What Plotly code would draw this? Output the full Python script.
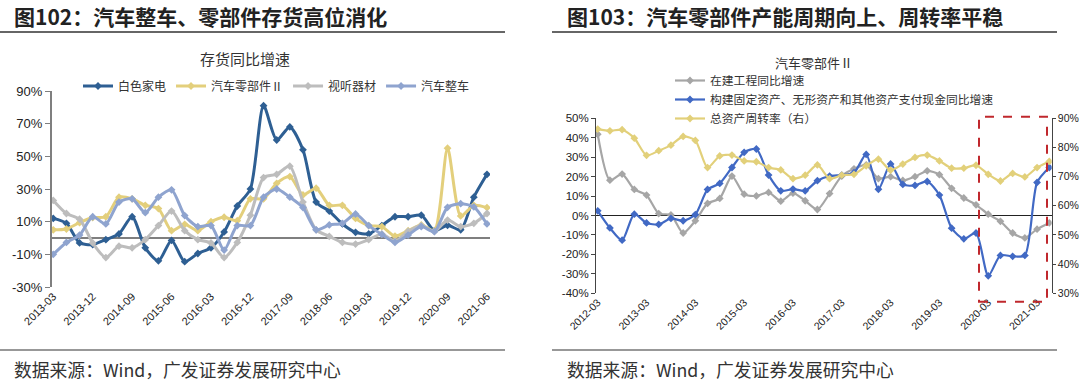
import plotly.graph_objects as go

# ---------------- Left chart data (存货同比增速) ----------------
quarters_left = [f"{y}-{m:02d}" for y in range(2013, 2022) for m in (3, 6, 9, 12)][:34]
baise_jiadian = [12, 9, -3, -4, -1, 2.5, 13, -6, -14, -1.5,
                 -14.5, -9.5, -6, 3.7, 19.6, 30, 81, 60, 68, 54,
                 22, 16.5, 8.6, 3.5, 2.5, 7.6, 13, 13, 14, 4.5,
                 7.8, 5, 25, 39]
qiche_lingbujian = [5, 5.5, 9.4, 12.5, 13, 25, 24, 20, 18, 4.5,
                    8.4, 4.5, 10, 12.7, 10.6, 24, 24, 33.5, 37.6, 26.4,
                    30.5, 20, 20, 12, 7.6, 7, 1.2, 4.5, 8, 4.5,
                    55, 13.5, 20, 18.6]
shiting_qicai = [23, 15, 11.5, -3, -12, -5, -6, -1, 7.6, 16.5,
                 4.5, -1, -3, -12, -2.7, 14, 37, 39, 44, 22,
                 5, 1, -2.7, -3.7, -1, 2.5, -2, 4, 7.6, 4,
                 11, 7, 9, 15]
qiche_zhengche = [-10, -2.7, 1.8, 13, 8.6, 22, 24, 15.5, 25, 29.5,
                  13.7, 7, 7.6, -7.4, 7.6, 7.6, 25, 30, 25, 18.6,
                  5, 8, 9, 14.7, 7.6, 2.2, -2.7, 1.8, 7, 3.9,
                  18.8, 21, 19, 8.6]
left_xticks = quarters_left[::3]
left_yticks = [-30, -10, 10, 30, 50, 70, 90]

# ---------------- Right chart data (汽车零部件Ⅱ) ----------------
quarters_right = [f"{y}-{m:02d}" for y in range(2012, 2022) for m in (3, 6, 9, 12)][:38]
zaijian_gongcheng = [41.8, 18.2, 21.3, 13.4, 10.5, 1, 0.3, -9, -2.7, 6.2,
                     8.8, 20.3, 11, 10.1, 11.9, 7.4, 11.5, 7.6, 3.1, 11.3,
                     20.3, 24, 26, 19, 20, 18, 20, 23, 21, 14,
                     9, 5.5, 0.7, -3, -9, -11.5, -7, -3.8]
goujian_zichan = [2.4, -6.4, -12.7, 0.7, -3.8, -4.6, -1.5, -2.7, 0.5, 13.4,
                  16.5, 24.7, 32.5, 34.2, 20.8, 12.7, 13.6, 12.7, 17.9, 20.3,
                  20.8, 22, 31.4, 13.5, 26.5, 16, 15.5, 17.5, 10.5, -6.5,
                  -12, -9, -31, -20.5, -21, -20.5, 17, 24.7]
zongzichan_zhouzhuan = [86.3, 85.7, 86.1, 83.2, 77.3, 78.9, 80.8, 83.8, 82.4, 73.1,
                        77.1, 77.4, 75.4, 75.1, 73.1, 72.3, 69.3, 70.5, 74, 69.3,
                        70.5, 70.8, 73.7, 76, 72.2, 74.3, 76.6, 77.4, 75.4, 72.9,
                        72.9, 73.9, 70.8, 68.5, 71.1, 69.9, 73.1, 75.2]
right_xticks = quarters_right[::4]
right_yticks_left = list(range(-40, 51, 10))
right_yticks_right = list(range(30, 91, 10))

W, H = 1080, 382
CJK = "Noto Sans CJK SC"
LAT = "Liberation Sans"


def px(x):
    return x / W


def py(y):
    return 1 - y / H


fig = go.Figure()


def add_line(x, y, name, color, xa, ya, legend, width):
    fig.add_trace(go.Scatter(
        x=x, y=y, name=name, mode="lines+markers",
        line=dict(color=color, width=width, shape="spline", smoothing=0.7),
        marker=dict(symbol="diamond", size=6, color=color),
        xaxis=xa, yaxis=ya, legend=legend,
    ))


add_line(quarters_left, baise_jiadian, "白色家电", "#2E5F93", "x", "y", "legend", 3)
add_line(quarters_left, qiche_lingbujian, "汽车零部件Ⅱ", "#E3CF7C", "x", "y", "legend", 3)
add_line(quarters_left, shiting_qicai, "视听器材", "#BDBDBD", "x", "y", "legend", 3)
add_line(quarters_left, qiche_zhengche, "汽车整车", "#8FA4CF", "x", "y", "legend", 3)

add_line(quarters_right, zaijian_gongcheng, "在建工程同比增速", "#A6A6A6", "x2", "y2", "legend2", 2.2)
add_line(quarters_right, goujian_zichan, "构建固定资产、无形资产和其他资产支付现金同比增速", "#4169C4", "x2", "y2", "legend2", 2.2)
add_line(quarters_right, zongzichan_zhouzhuan, "总资产周转率（右）", "#E2D07A", "x2", "y3", "legend2", 2.2)

fig.update_layout(
    width=W, height=H,
    margin=dict(l=0, r=0, t=0, b=0, autoexpand=False),
    paper_bgcolor="white", plot_bgcolor="white",
    showlegend=True,
    xaxis=dict(
        domain=[px(51.7), px(490)], anchor="y", type="category", automargin=False,
        categoryorder="array", categoryarray=quarters_left,
        range=[-0.12, 33.23], tickvals=left_xticks, ticktext=left_xticks,
        tickangle=-45, showline=False, ticks="", showgrid=False, zeroline=False,
        tickfont=dict(family=LAT, size=11, color="#222"),
    ),
    yaxis=dict(
        domain=[py(287), py(91)], anchor="x", range=[-30, 90], automargin=False,
        tickvals=left_yticks, ticktext=[f"{v}%" for v in left_yticks],
        showline=True, linecolor="#7F7F7F", linewidth=1.5,
        ticks="outside", ticklen=5, tickcolor="#7F7F7F",
        zeroline=True, zerolinecolor="#7F7F7F", zerolinewidth=1.5,
        showgrid=False, tickfont=dict(family=LAT, size=13, color="#222"),
    ),
    xaxis2=dict(
        domain=[px(596), px(1051.7)], anchor="y2", type="category", automargin=False,
        categoryorder="array", categoryarray=quarters_right,
        range=[-0.14, 37.2], tickvals=right_xticks, ticktext=right_xticks,
        tickangle=-45, showline=False, ticks="", showgrid=False, zeroline=False,
        tickfont=dict(family=LAT, size=10.5, color="#222"),
    ),
    yaxis2=dict(
        domain=[py(293.3), py(118.3)], anchor="x2", range=[-40, 50], automargin=False,
        tickvals=right_yticks_left, ticktext=[f"{v}%" for v in right_yticks_left],
        showline=True, linecolor="#444", linewidth=1,
        ticks="outside", ticklen=4, tickcolor="#444",
        zeroline=True, zerolinecolor="#222", zerolinewidth=1,
        showgrid=False, tickfont=dict(family=LAT, size=11.5, color="#222"),
    ),
    yaxis3=dict(
        overlaying="y2", side="right", anchor="x2", range=[30, 90], automargin=False,
        tickvals=right_yticks_right, ticktext=[f"{v}%" for v in right_yticks_right],
        showline=True, linecolor="#444", linewidth=1,
        ticks="outside", ticklen=3, tickcolor="#444",
        zeroline=False, showgrid=False,
        tickfont=dict(family=LAT, size=10.5, color="#222"),
    ),
    legend=dict(
        orientation="h", x=px(78), y=py(86), xanchor="left", yanchor="middle",
        font=dict(family=CJK, size=12, color="#333"), bgcolor="rgba(0,0,0,0)",
        itemwidth=30, tracegroupgap=0,
    ),
    legend2=dict(
        orientation="v", x=px(670), y=py(66), xanchor="left", yanchor="top",
        font=dict(family=CJK, size=11.8, color="#333"), bgcolor="rgba(0,0,0,0)",
        itemwidth=30, tracegroupgap=0,
    ),
)

annotations = [
    dict(text="<b>图102：汽车整车、零部件存货高位消化</b>", x=px(12), y=py(16),
         font=dict(family=CJK, size=21, color="#222")),
    dict(text="<b>图103：汽车零部件产能周期向上、周转率平稳</b>", x=px(565), y=py(16),
         font=dict(family=CJK, size=21, color="#222")),
    dict(text="数据来源：Wind，广发证券发展研究中心", x=px(12), y=py(369),
         font=dict(family=CJK, size=17.8, color="#333")),
    dict(text="数据来源：Wind，广发证券发展研究中心", x=px(565), y=py(369),
         font=dict(family=CJK, size=17.8, color="#333")),
    dict(text="存货同比增速", x=px(245), y=py(59), xanchor="center",
         font=dict(family=CJK, size=15, color="#333")),
    dict(text="汽车零部件Ⅱ", x=px(814), y=py(62), xanchor="center",
         font=dict(family=CJK, size=13, color="#333")),
]
for a in annotations:
    a.setdefault("xanchor", "left")
    a.update(xref="paper", yref="paper", yanchor="middle", showarrow=False)
fig.update_layout(annotations=annotations)

shapes = [
    dict(type="line", x0=0, x1=px(505), y0=py(32), y1=py(32), line=dict(color="#333", width=1.5)),
    dict(type="line", x0=px(552), x1=px(1057), y0=py(32), y1=py(32), line=dict(color="#333", width=1.5)),
    dict(type="line", x0=0, x1=px(505), y0=py(350), y1=py(350), line=dict(color="#333", width=1.2)),
    dict(type="line", x0=px(552), x1=px(1057), y0=py(350), y1=py(350), line=dict(color="#333", width=1.2)),
    dict(type="rect", x0=px(979), x1=px(1047), y0=py(301.7), y1=py(116.7),
         line=dict(color="#C0282D", width=2, dash="dash")),
]
for s in shapes:
    s.update(xref="paper", yref="paper")
fig.update_layout(shapes=shapes)

fig.write_html(
    "out.html",
    config={"displayModeBar": False},
    post_script="document.body.style.margin='0';document.body.style.padding='0';"
                "document.body.style.overflow='hidden';",
)
